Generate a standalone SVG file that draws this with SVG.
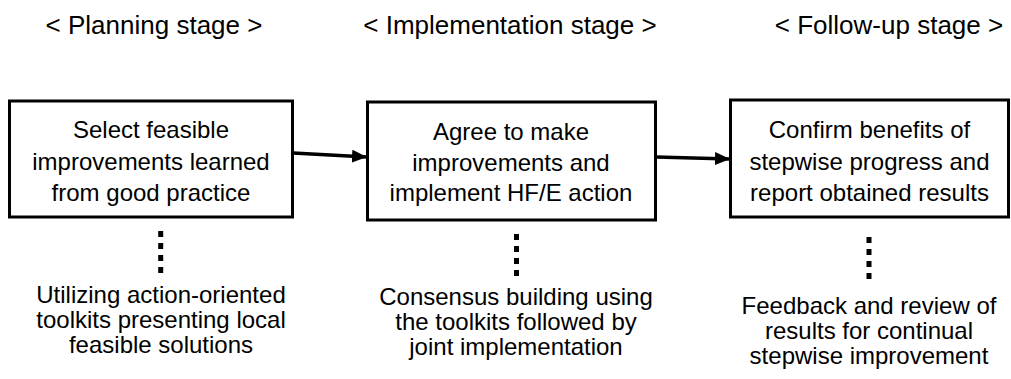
<svg xmlns="http://www.w3.org/2000/svg" width="1011" height="379" viewBox="0 0 1011 379">
<defs>
<style>
text{font-family:"Liberation Sans",Arial,sans-serif;fill:#000;text-anchor:middle}
.h{font-size:26px}
.b{font-size:24px}
.s{font-size:24px}
.box{fill:#fff;stroke:#000;stroke-width:3}
.dots{stroke:#000;stroke-width:5;stroke-dasharray:6 6;fill:none}
.arr{stroke:#000;stroke-width:3.5;fill:none;marker-end:url(#ah)}
</style>
<marker id="ah" markerWidth="15" markerHeight="13" refX="15" refY="6.5" orient="auto" markerUnits="userSpaceOnUse">
<path d="M0,0 L15,6.5 L0,13 Z" fill="#000"/>
</marker>
</defs>
<rect width="1011" height="379" fill="#fff"/>
<text class="h" x="154" y="34">&lt; Planning stage &gt;</text>
<text class="h" x="510" y="34">&lt; Implementation stage &gt;</text>
<text class="h" x="889" y="34">&lt; Follow-up stage &gt;</text>
<g id="connectors">
<line class="arr" x1="293" y1="153" x2="367" y2="157"/>
<line class="arr" x1="656" y1="157" x2="730" y2="159"/>
<line class="dots" x1="160.7" y1="231" x2="160.7" y2="273"/>
<line class="dots" x1="516.5" y1="234" x2="516.5" y2="276"/>
<line class="dots" x1="869" y1="237" x2="869" y2="279"/>
</g>
<g id="plan">
<rect class="box" x="9.5" y="101" width="283" height="116"/>
<text class="b" x="151" y="138">Select feasible</text>
<text class="b" x="151" y="170">improvements learned</text>
<text class="b" x="151" y="201">from good practice</text>
</g>
<g id="impl">
<rect class="box" x="367.5" y="102" width="288" height="118"/>
<text class="b" x="511" y="140">Agree to make</text>
<text class="b" x="511" y="171">improvements and</text>
<text class="b" x="511" y="201">implement HF/E action</text>
</g>
<g id="follow">
<rect class="box" x="730.5" y="100" width="278" height="117"/>
<text class="b" x="869.5" y="138">Confirm benefits of</text>
<text class="b" x="869.5" y="170">stepwise progress and</text>
<text class="b" x="869.5" y="201">report obtained results</text>
</g>
<g id="plan-note">
<text class="s" x="161" y="303">Utilizing action-oriented</text>
<text class="s" x="161" y="328">toolkits presenting local</text>
<text class="s" x="161" y="353">feasible solutions</text>
</g>
<g id="impl-note">
<text class="s" x="516" y="305">Consensus building using</text>
<text class="s" x="516" y="330">the toolkits followed by</text>
<text class="s" x="516" y="355">joint implementation</text>
</g>
<g id="follow-note">
<text class="s" x="869" y="314">Feedback and review of</text>
<text class="s" x="869" y="339">results for continual</text>
<text class="s" x="869" y="364">stepwise improvement</text>
</g>
</svg>
